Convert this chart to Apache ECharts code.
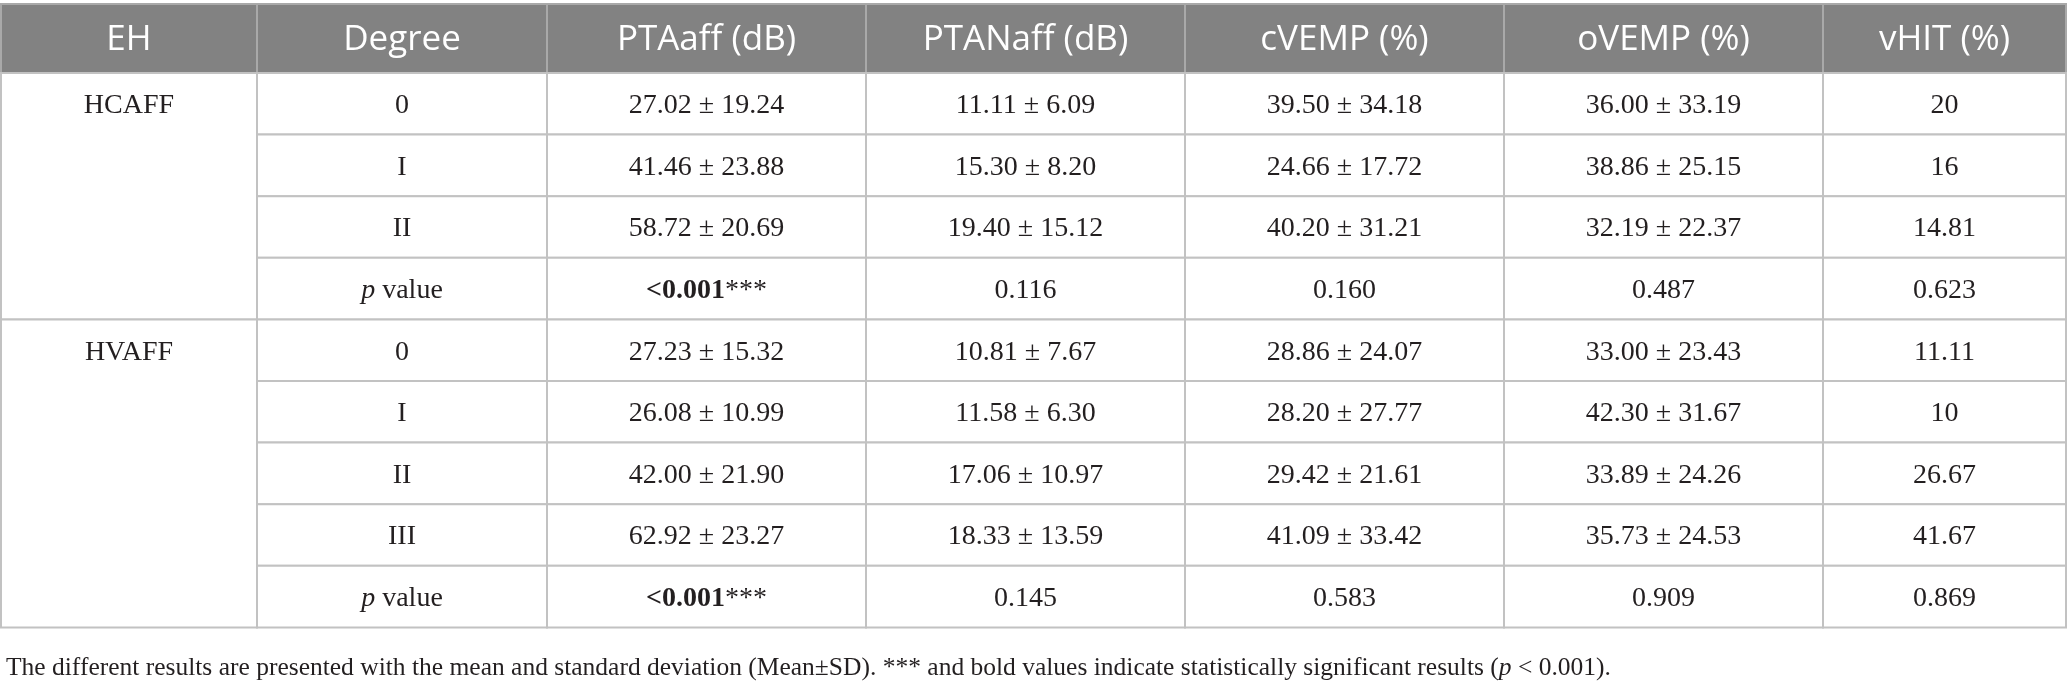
<!DOCTYPE html>
<html>
<head>
<meta charset="utf-8">
<script src="https://cdn.jsdelivr.net/npm/echarts@6/dist/echarts.min.js"></script>
<style>
  html, body { margin: 0; padding: 0; background: #fff; }
  #main { width: 2068px; height: 681px; }
</style>
</head>
<body>
<div id="main"></div>
<script>
// table content
const headers = ['EH', 'Degree', 'PTAaff (dB)', 'PTANaff (dB)', 'cVEMP (%)', 'oVEMP (%)', 'vHIT (%)']
const groups = ['HCAFF', 'HVAFF']
const degreesHC = ['0', 'I', 'II']
const degreesHV = ['0', 'I', 'II', 'III']

// HCAFF rows first (3), then HVAFF rows (4)
const ptaAffMean = [27.02, 41.46, 58.72, 27.23, 26.08, 42.00, 62.92]
const ptaAffSd = [19.24, 23.88, 20.69, 15.32, 10.99, 21.90, 23.27]
const ptaNaffMean = [11.11, 15.30, 19.40, 10.81, 11.58, 17.06, 18.33]
const ptaNaffSd = [6.09, 8.20, 15.12, 7.67, 6.30, 10.97, 13.59]
const cvempMean = [39.50, 24.66, 40.20, 28.86, 28.20, 29.42, 41.09]
const cvempSd = [34.18, 17.72, 31.21, 24.07, 27.77, 21.61, 33.42]
const ovempMean = [36.00, 38.86, 32.19, 33.00, 42.30, 33.89, 35.73]
const ovempSd = [33.19, 25.15, 22.37, 23.43, 31.67, 24.26, 24.53]
const vhit = [20, 16, 14.81, 11.11, 10, 26.67, 41.67]

// p values per column (PTAaff, PTANaff, cVEMP, oVEMP, vHIT)
const pValuesHC = ['<0.001', '0.116', '0.160', '0.487', '0.623']
const pValuesHV = ['<0.001', '0.145', '0.583', '0.909', '0.869']

const footnote = 'The different results are presented with the mean and standard deviation (Mean±SD). *** and bold values indicate statistically significant results ({i|p} < 0.001).'

// layout (px)
const colW = [256, 290, 319, 319, 319, 319, 243]
const left = 1
const headTop = 4
const headH = 69
const rowH = 61.6
const serif = '"Liberation Serif", "Times New Roman", serif'
const bodySize = 28

const colX = []
colW.reduce((x, w, i) => { colX[i] = x; return x + w }, left)

function fmt(m, s) {
  return m.toFixed(2) + ' ± ' + s.toFixed(2)
}
function pText(p) {
  return p.charAt(0) === '<' ? '{b|' + p + '}***' : p
}

// build cell list from the arrays
const cells = []
headers.forEach((h, c) => {
  cells.push({ c: c, r0: -1, r1: -1, text: h, head: true })
})
let row = 0
groups.forEach((g, gi) => {
  const degs = gi === 0 ? degreesHC : degreesHV
  const off = gi === 0 ? 0 : degreesHC.length
  const pv = gi === 0 ? pValuesHC : pValuesHV
  const first = row
  degs.forEach((d, k) => {
    const i = off + k
    const vals = [d, fmt(ptaAffMean[i], ptaAffSd[i]), fmt(ptaNaffMean[i], ptaNaffSd[i]),
      fmt(cvempMean[i], cvempSd[i]), fmt(ovempMean[i], ovempSd[i]), String(vhit[i])]
    vals.forEach((v, c) => cells.push({ c: c + 1, r0: row, r1: row, text: v }))
    row++
  })
  cells.push({ c: 1, r0: row, r1: row, text: '{i|p} value' })
  pv.forEach((p, c) => cells.push({ c: c + 2, r0: row, r1: row, text: pText(p) }))
  row++
  cells.push({ c: 0, r0: first, r1: row - 1, text: g, top: true })
})

function rowY(r) {
  return r < 0 ? headTop : headTop + headH + r * rowH
}

const chart = echarts.init(document.getElementById('main'))

const option = {
  animation: false,
  backgroundColor: '#fff',
  grid: { left: 0, right: 0, top: 0, bottom: 0 },
  xAxis: { type: 'value', min: 0, max: 2068, show: false },
  yAxis: { type: 'value', min: 0, max: 681, inverse: true, show: false },
  title: {
    text: footnote,
    left: 1,
    top: 650,
    textStyle: {
      fontFamily: serif,
      fontSize: 25.5,
      fontWeight: 'normal',
      color: '#231f20',
      rich: {
        i: { fontFamily: serif, fontSize: 25.5, fontStyle: 'italic', color: '#231f20' }
      }
    }
  },
  series: [
    {
      type: 'custom',
      coordinateSystem: 'cartesian2d',
      data: cells.map((c, i) => [i]),
      renderItem: function (params, api) {
        const cell = cells[params.dataIndex]
        const y0 = rowY(cell.r0)
        const y1 = cell.r1 < 0 ? headTop + headH : rowY(cell.r1) + rowH
        const p0 = api.coord([colX[cell.c], y0])
        const p1 = api.coord([colX[cell.c] + colW[cell.c], y1])
        const cx = (p0[0] + p1[0]) / 2
        const cy = cell.top ? p0[1] + rowH / 2 + 2 : (p0[1] + p1[1]) / 2 + 2
        return {
          type: 'group',
          children: [
            {
              type: 'rect',
              shape: { x: p0[0], y: p0[1], width: p1[0] - p0[0], height: p1[1] - p0[1] },
              style: {
                fill: cell.head ? '#828282' : '#fff',
                stroke: cell.head ? '#a9a9a9' : '#c2c2c2',
                lineWidth: 2
              }
            },
            {
              type: 'text',
              style: {
                text: cell.text,
                x: cx,
                y: cy,
                align: 'center',
                verticalAlign: 'middle',
                fill: cell.head ? '#fff' : '#231f20',
                fontFamily: cell.head ? '"Open Sans", sans-serif' : serif,
                fontSize: cell.head ? 35 : bodySize,
                rich: {
                  i: { fontFamily: serif, fontSize: bodySize, fontStyle: 'italic', fill: '#231f20' },
                  b: { fontFamily: serif, fontSize: bodySize, fontWeight: 'bold', fill: '#231f20' }
                }
              }
            }
          ]
        }
      }
    }
  ]
}

chart.setOption(option)
window.addEventListener('resize', chart.resize)
</script>
</body>
</html>
